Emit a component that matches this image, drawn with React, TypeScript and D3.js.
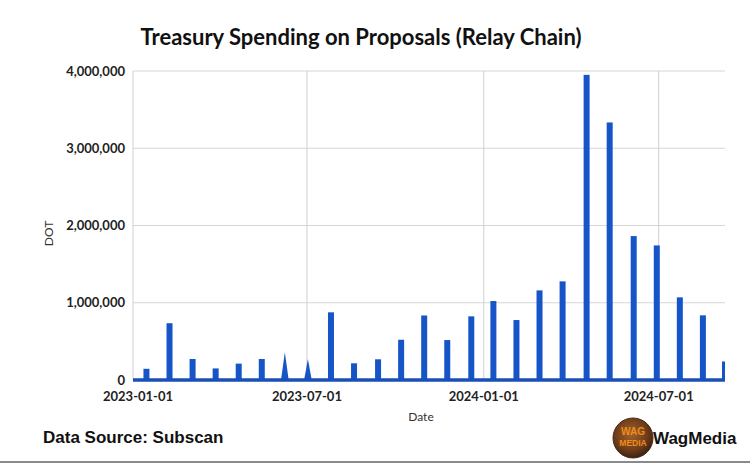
import React from "react";
import * as d3 from "d3";

// Treasury payouts per spend period (DOT)
const spendDates = [
  "2023-01-15", "2023-02-08", "2023-03-04", "2023-03-28", "2023-04-21",
  "2023-05-15", "2023-06-08", "2023-07-02", "2023-07-26", "2023-08-19",
  "2023-09-13", "2023-10-07", "2023-10-31", "2023-11-24", "2023-12-19",
  "2024-01-11", "2024-02-04", "2024-02-28", "2024-03-23", "2024-04-17",
  "2024-05-11", "2024-06-05", "2024-06-29", "2024-07-23", "2024-08-16",
  "2024-09-08",
];
const spendValues = [
  145000, 735000, 272000, 150000, 212000,
  272000, 360000, 268000, 876000, 216000,
  268000, 521000, 835000, 517000, 824000,
  1022000, 776000, 1160000, 1277000, 3950000,
  3334000, 1863000, 1742000, 1070000, 837000,
  240000,
];
// payouts that land on a single day (drawn as a peak)
const singleDaySpends = ["2023-06-08", "2023-07-02"];

const yTicks = [0, 1000000, 2000000, 3000000, 4000000];
const xTickLabels = ["2023-01-01", "2023-07-01", "2024-01-01", "2024-07-01"];
const dateRange = ["2023-01-01", "2024-09-08"];

const BLUE = "#1655c8";
const parse = d3.utcParse("%Y-%m-%d");

export default function App() {
  const width = 750;
  const height = 465;
  const left = 133;
  const right = 725;
  const top = 71;
  const bottom = 380;

  const x = d3
    .scaleUtc()
    .domain(dateRange.map((d) => parse(d)!))
    .range([left, right]);
  const y = d3.scaleLinear().domain([0, 4000000]).range([bottom, top]);
  const fmt = d3.format(",");

  const points = spendDates.map((d, i) => ({
    date: parse(d)!,
    value: spendValues[i],
    peak: singleDaySpends.includes(d),
  }));

  const peakArea = d3
    .area<[Date, number]>()
    .x((d) => x(d[0]))
    .y0(y(0))
    .y1((d) => y(d[1]));

  const barW = 6;

  return (
    <svg
      width={width}
      height={height}
      style={{ position: "absolute", left: 0, top: 0, background: "#fff" }}
      fontFamily="Lato, 'Open Sans', sans-serif"
    >
      <defs>
        <clipPath id="plot">
          <rect x={left} y={top - 5} width={right - left} height={bottom - top + 10} />
        </clipPath>
        <radialGradient id="logo" cx="45%" cy="40%" r="60%">
          <stop offset="0%" stopColor="#a0642a" />
          <stop offset="70%" stopColor="#6b3a1a" />
          <stop offset="100%" stopColor="#3a2414" />
        </radialGradient>
      </defs>

      <text
        x={361}
        y={45}
        textAnchor="middle"
        fontSize={22}
        fontWeight={700}
        fill="#111"
      >
        Treasury Spending on Proposals (Relay Chain)
      </text>

      {/* grid */}
      {yTicks.slice(1).map((t) => (
        <line key={t} x1={left} x2={right} y1={y(t)} y2={y(t)} stroke="#d6d6d6" strokeWidth={1} />
      ))}
      {xTickLabels.map((t) => (
        <line
          key={t}
          x1={x(parse(t)!)}
          x2={x(parse(t)!)}
          y1={top}
          y2={bottom}
          stroke="#d0d0d0"
          strokeWidth={1}
        />
      ))}

      {/* y labels */}
      {yTicks.map((t) => (
        <text
          key={t}
          x={left - 8}
          y={y(t)}
          dy="0.35em"
          textAnchor="end"
          fontSize={13}
          fontWeight={700}
          fill="#222"
        >
          {fmt(t)}
        </text>
      ))}
      {xTickLabels.map((t, i) => (
        <text
          key={t}
          x={x(parse(t)!) + (i === 0 ? 5 : 0)}
          y={401}
          textAnchor="middle"
          fontSize={13}
          fontWeight={700}
          fill="#222"
        >
          {t}
        </text>
      ))}

      <text
        transform={`translate(53,${(top + bottom) / 2 + 8}) rotate(-90)`}
        textAnchor="middle"
        fontSize={12}
        fill="#333"
      >
        DOT
      </text>
      <text x={421} y={421} textAnchor="middle" fontSize={12} fill="#333">
        Date
      </text>

      {/* series */}
      <g clipPath="url(#plot)">
        {points.map((p) =>
          p.peak ? (
            <path
              key={p.date.toISOString()}
              d={
                peakArea([
                  [d3.utcDay.offset(p.date, -4), 0],
                  [p.date, p.value],
                  [d3.utcDay.offset(p.date, 4), 0],
                ]) || ""
              }
              fill={BLUE}
            />
          ) : (
            <rect
              key={p.date.toISOString()}
              x={x(p.date) - barW / 2}
              y={y(p.value)}
              width={barW}
              height={y(0) - y(p.value)}
              fill={BLUE}
            />
          )
        )}
        <line x1={left} x2={right} y1={y(0)} y2={y(0)} stroke="#1a4fb8" strokeWidth={3.5} />
      </g>

      {/* footer */}
      <text
        x={43}
        y={443}
        fontFamily="'Liberation Sans', Arial, sans-serif"
        fontSize={17}
        fontWeight={700}
        fill="#111"
      >
        Data Source: Subscan
      </text>
      <g>
        <circle cx={633} cy={438} r={20} fill="url(#logo)" />
        <circle cx={633} cy={438} r={20} fill="none" stroke="#4a2c16" strokeWidth={1} />
        <text x={633} y={435} textAnchor="middle" fontSize={10} fontWeight={700} fill="#f08a1c"
          fontFamily="'Liberation Sans', Arial, sans-serif">
          WAG
        </text>
        <text x={633} y={446} textAnchor="middle" fontSize={8.5} fontWeight={700} fill="#f08a1c"
          fontFamily="'Liberation Sans', Arial, sans-serif">
          MEDIA
        </text>
      </g>
      <text
        x={653}
        y={444}
        fontFamily="'Liberation Sans', Arial, sans-serif"
        fontSize={17}
        fontWeight={700}
        fill="#111"
      >
        WagMedia
      </text>
      <line x1={0} x2={width} y1={462} y2={462} stroke="#8a8a8a" strokeWidth={2} />
    </svg>
  );
}
